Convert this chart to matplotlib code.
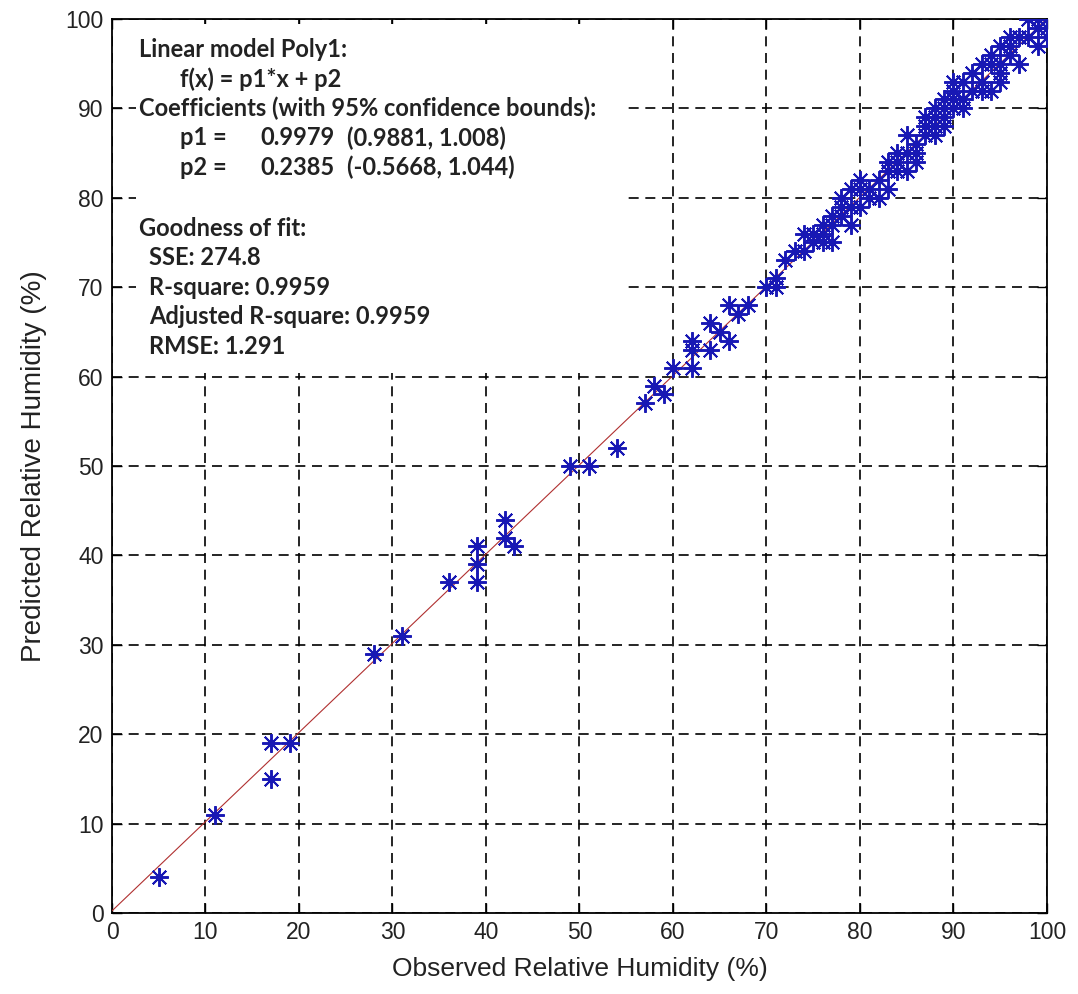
import numpy as np
import matplotlib.pyplot as plt
from matplotlib.patches import Rectangle

# observed vs predicted relative humidity
observed = [5, 11, 17, 19, 17, 28, 31, 36, 39, 39, 39, 42, 42, 43,
            49, 51, 54, 57, 58, 59, 60, 62, 62, 62, 64, 64, 65, 66, 66, 67, 68, 70, 71, 71, 72,
            74, 74, 75, 76, 75, 76, 77, 77, 77, 78, 79, 80, 80, 79, 80, 78, 81, 82, 83, 83,
            84, 85, 86, 85, 86, 85, 87, 88, 88, 88, 89, 90,
            87, 88, 89, 90, 90, 90, 91, 92, 93, 93, 94, 94, 94, 95, 96, 96, 97, 98, 99, 100,
            99, 100, 100, 99, 98, 97, 95, 96, 92, 91, 89, 87, 84, 83, 82, 79, 78, 76, 73,
            81, 84, 86, 89, 91, 93, 95, 95]
predicted = [4, 11, 19, 19, 15, 29, 31, 37, 41, 39, 37, 44, 42, 41,
             50, 50, 52, 57, 59, 58, 61, 64, 63, 61, 66, 63, 65, 64, 68, 67, 68, 70, 70, 71, 73,
             74, 76, 76, 76, 75, 75, 75, 77, 78, 79, 77, 79, 81, 81, 82, 80, 81, 80, 81, 84,
             85, 85, 85, 83, 84, 87, 87, 87, 88, 90, 89, 90,
             88, 89, 91, 92, 91, 93, 91, 92, 95, 93, 92, 95, 96, 95, 97, 98, 95, 100, 100, 100,
             99, 99, 98, 97, 98, 98, 94, 96, 94, 93, 90, 89, 83, 83, 82, 79, 78, 77, 74,
             80, 84, 86, 88, 90, 92, 93, 97]

p1 = 0.9979
p2 = 0.2385

fit_lines = ["Linear model Poly1:",
             "f(x) = p1*x + p2",
             "Coefficients (with 95% confidence bounds):"]
coef_names = ["p1 =", "p2 ="]
coef_values = ["0.9979", "0.2385"]
coef_bounds = ["(0.9881, 1.008)", "(-0.5668, 1.044)"]
gof_lines = ["Goodness of fit:",
             "SSE: 274.8",
             "R-square: 0.9959",
             "Adjusted R-square: 0.9959",
             "RMSE: 1.291"]

plt.rcParams['font.family'] = ['Liberation Sans', 'DejaVu Sans']

fig = plt.figure(figsize=(10.78, 9.94), dpi=100)
ax = fig.add_axes([0.1039, 0.0815, 0.8673, 0.8994])

# fitted line
xf = np.array([0, 100])
ax.plot(xf, p1 * xf + p2, color='#b03030', lw=0.8, zorder=3)

# data as 8-arm asterisks
ax.plot(observed, predicted, linestyle='none', marker=(8, 2, 0), ms=13.5,
        mec='#1818b4', mfc='#1818b4', mew=1.4, zorder=4)

ax.set_xlim(0, 100)
ax.set_ylim(0, 100)
ax.set_xticks(np.arange(0, 101, 10))
ax.set_yticks(np.arange(0, 101, 10))
ax.tick_params(direction='in', length=7, width=1, top=True, right=True,
               labelsize=16.5, labelcolor='#222222', pad=6)
ax.grid(True, color='black', linestyle=(0, (6, 4)), lw=1.2)
ax.set_axisbelow(True)
for s in ax.spines.values():
    s.set_linewidth(1.3)

ax.set_xlabel("Observed Relative Humidity (%)", fontsize=19, color='#222222', labelpad=9)
ax.set_ylabel("Predicted Relative Humidity (%)", fontsize=20, color='#222222', labelpad=13)

# white box behind the fit summary
ax.add_patch(Rectangle((2.6, 60.4), 52.2, 39.0, facecolor='white', edgecolor='none', zorder=2))

tf = dict(family=['Lato', 'DejaVu Sans'], fontweight='bold', fontsize=17,
          color='#222222', va='center', zorder=5)
dy = 3.3
y0 = 96.6
ax.text(2.9, y0, fit_lines[0], **tf)
ax.text(7.3, y0 - dy, fit_lines[1], **tf)
ax.text(2.9, y0 - 2 * dy, fit_lines[2], **tf)
for i in range(2):
    yy = y0 - (3 + i) * dy
    ax.text(7.3, yy, coef_names[i], **tf)
    ax.text(15.9, yy, coef_values[i], **tf)
    ax.text(25.1, yy, coef_bounds[i], **tf)
ax.text(2.9, y0 - 6 * dy - 0.2, gof_lines[0], **tf)
for i, t in enumerate(gof_lines[1:]):
    ax.text(4.0, y0 - (7 + i) * dy - 0.2, t, **tf)

fig.savefig("out.png", dpi=100)
